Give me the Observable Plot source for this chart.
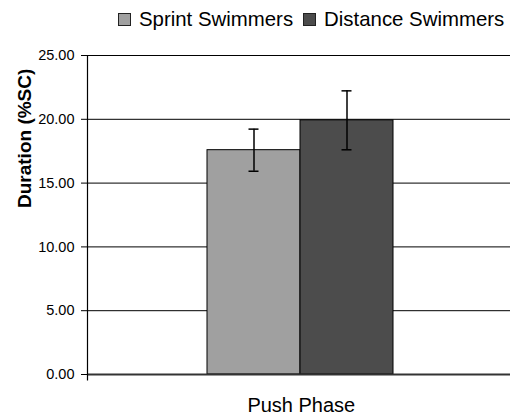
<!DOCTYPE html>
<html>
<head>
<meta charset="utf-8">
<script src="https://cdn.jsdelivr.net/npm/d3@7"></script>
<script src="https://cdn.jsdelivr.net/npm/@observablehq/plot@0.6"></script>
<style>
  html, body { margin: 0; padding: 0; background: #fff; overflow: hidden; }
  body { width: 510px; height: 418px; font-family: "Liberation Sans", Arial, sans-serif; }
  #legend { height: 38px; display: flex; align-items: center; padding-left: 118px; box-sizing: border-box; font-size: 20.4px; color: #000; }
  .item { display: flex; align-items: center; margin-right: 10px; white-space: nowrap; }
  .sw { width: 11px; height: 11px; border: 1px solid #222; margin-right: 8px; }
  #chart svg { display: block; }
</style>
</head>
<body>
<div id="legend"></div>
<div id="chart"></div>
<script>
// ---- data ----
const categories = ["Push Phase"];
const series = ["Sprint Swimmers", "Distance Swimmers"];
const means = [17.58, 19.92];
const errors = [1.65, 2.31];
const colors = ["#a0a0a0", "#4c4c4c"];
const yTicks = [0, 5, 10, 15, 20, 25];
const yLabel = "Duration (%SC)";

const data = series.map((s, i) => ({series: s, category: categories[0], mean: means[i], err: errors[i]}));

// ---- legend ----
const legend = d3.select("#legend");
series.forEach((s, i) => {
  const it = legend.append("div").attr("class", "item");
  it.append("div").attr("class", "sw").style("background", colors[i]);
  it.append("span").text(s);
});

// ---- chart ----
const W = 510, H = 380, ML = 87, MR = 0, MT = 17, MB = 44;
const fw = W - ML - MR, fh = H - MT - MB + 6;

const chart = Plot.plot({
  width: W,
  height: H,
  marginLeft: ML,
  marginRight: MR,
  marginTop: MT,
  marginBottom: MB,
  style: {fontFamily: '"Liberation Sans", Arial, sans-serif', fontSize: "14.5px", color: "#000", background: "#fff"},
  x: {type: "band", domain: series, paddingInner: 0, paddingOuter: 1.262, align: 0.507, axis: null},
  y: {domain: [0, 25], axis: null},
  color: {domain: series, range: colors},
  marks: [
    Plot.ruleY(yTicks, {stroke: "#000", strokeWidth: 1}),
    Plot.barY(data, {x: "series", y: "mean", fill: "series", stroke: "#000", strokeWidth: 1}),
    Plot.ruleY([0], {stroke: "#333", strokeWidth: 2}),
    Plot.ruleX(data, {x: "series", y1: d => d.mean - d.err, y2: d => d.mean + d.err, stroke: "#000", strokeWidth: 1.5}),
    Plot.tickY(data, {x: "series", y: d => d.mean + d.err, stroke: "#000", strokeWidth: 1.5, insetLeft: 41.5, insetRight: 41.5}),
    Plot.tickY(data, {x: "series", y: d => d.mean - d.err, stroke: "#000", strokeWidth: 1.5, insetLeft: 41.5, insetRight: 41.5}),
    Plot.axisY({ticks: yTicks, tickFormat: d3.format(".2f"), tickSize: 6, tickPadding: 7, stroke: "#000", fill: "#000", fontSize: 14.5, label: null}),
    Plot.frame({stroke: "#000", strokeWidth: 1.2, insetBottom: -6, strokeDasharray: `0 ${2 * fw + fh} ${fh}`}),
    Plot.text(categories, {frameAnchor: "bottom", lineAnchor: "bottom", dy: 37.7, dx: 2.3, fontSize: 20, fill: "#000"}),
    Plot.text([yLabel], {frameAnchor: "left", lineAnchor: "bottom", rotate: -90, dx: -56.7, dy: -7, fontSize: 19, fontWeight: "bold", fill: "#000"})
  ]
});
document.getElementById("chart").appendChild(chart);
</script>
</body>
</html>
